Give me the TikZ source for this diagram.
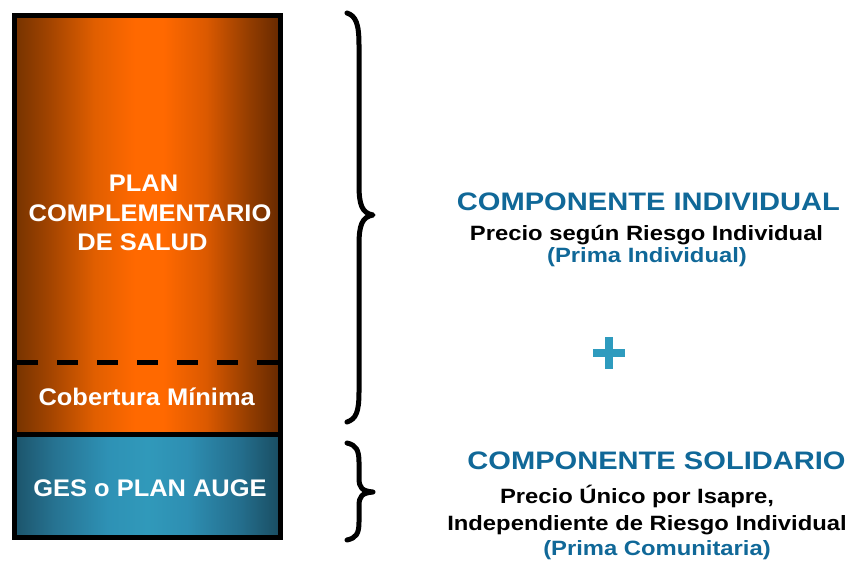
\documentclass[tikz,border=0pt]{standalone}
\usepackage{fontspec}
\setmainfont{Liberation Sans}
\newfontfamily\lfont{Liberation Sans}[FakeStretch=1.06]
\newfontfamily\rfont{Liberation Sans}[FakeStretch=1.15]
\definecolor{hblue}{RGB}{16,104,152}
\definecolor{pblue}{RGB}{46,155,190}
\pgfdeclarehorizontalshading{oshade}{100bp}{
  rgb(0bp)=(0.46,0.20,0.0);
  rgb(25bp)=(0.46,0.20,0.0);
  rgb(31bp)=(0.62,0.26,0.0);
  rgb(40bp)=(0.88,0.37,0.0);
  rgb(47.5bp)=(1.0,0.41,0.0);
  rgb(53bp)=(1.0,0.41,0.0);
  rgb(61bp)=(0.86,0.35,0.0);
  rgb(69bp)=(0.58,0.24,0.0);
  rgb(75bp)=(0.40,0.16,0.0);
  rgb(100bp)=(0.40,0.16,0.0)}
\pgfdeclarehorizontalshading{bshade}{100bp}{
  rgb(0bp)=(0.11,0.33,0.42);
  rgb(25bp)=(0.11,0.33,0.42);
  rgb(32.5bp)=(0.15,0.45,0.57);
  rgb(42.5bp)=(0.18,0.57,0.71);
  rgb(50bp)=(0.19,0.60,0.73);
  rgb(57.5bp)=(0.18,0.56,0.70);
  rgb(67.5bp)=(0.14,0.43,0.55);
  rgb(75bp)=(0.10,0.30,0.38);
  rgb(100bp)=(0.10,0.30,0.38)}
\tikzset{
  ltext/.style={text=white,font=\lfont\bfseries\fontsize{24}{29}\selectfont,anchor=base,inner sep=0pt},
  rhead/.style={text=hblue,font=\rfont\bfseries\fontsize{25.3}{30}\selectfont,anchor=base,inner sep=0pt},
  rsub/.style={text=black,font=\rfont\bfseries\fontsize{20.7}{25}\selectfont,anchor=base,inner sep=0pt},
  rprima/.style={rsub,text=hblue},
  brace/.style={line width=5pt,line cap=round,line join=round,draw=black},
}
\begin{document}
\begin{tikzpicture}[x=1pt,y=-1pt]
\useasboundingbox (0,0) rectangle (851,563);
% box sections
\shade[shading=oshade] (14.5,15.5) rectangle (280.5,434.5);
\shade[shading=bshade] (14.5,434.5) rectangle (280.5,537.5);
\draw[line width=5pt,dash pattern=on 21pt off 19pt] (17,362.5) -- (278,362.5);
\draw[line width=5pt] (14.5,434.5) -- (280.5,434.5);
\draw[line width=5pt] (14.5,15.5) rectangle (280.5,537.5);
% left texts
\node[ltext] (plan1) at (143.5,191.5) {PLAN};
\node[ltext] (plan2) at (150,221) {COMPLEMENTARIO};
\node[ltext] (plan3) at (142.5,250) {DE SALUD};
\node[ltext] (cob) at (146.7,405) {Cobertura Mínima};
\node[ltext] (ges) at (150,496.5) {GES o PLAN AUGE};
% braces
\draw[brace] (347,13) .. controls (356,16) and (359,24) .. (359,45) -- (359,185)
  .. controls (359,205) and (362,213) .. (373,215)
  .. controls (362,217) and (359,225) .. (359,245) -- (359,392)
  .. controls (359,412) and (356,419) .. (347,422);
\draw[brace] (347,443) .. controls (356,445) and (359,450) .. (359,462) -- (359,478)
  .. controls (359,488) and (362,491) .. (373,492)
  .. controls (362,493) and (359,496) .. (359,506) -- (359,522)
  .. controls (359,534) and (356,538) .. (347,540);
% right texts
\node[rhead] (ind) at (648.5,210) {COMPONENTE INDIVIDUAL};
\node[rsub] (indsub) at (646.5,240) {Precio según Riesgo Individual};
\node[rprima] (indpr) at (647,262.5) {(Prima Individual)};
\fill[pblue] (605,337) rectangle (613,369);
\fill[pblue] (593,349) rectangle (625,357);
\node[rhead] (sol) at (656.5,469) {COMPONENTE SOLIDARIO};
\node[rsub] (solsub1) at (637,503) {Precio Único por Isapre,};
\node[rsub] (solsub2) at (647,530) {Independiente de Riesgo Individual};
\node[rprima] (solpr) at (657,555) {(Prima Comunitaria)};
\end{tikzpicture}
\end{document}
